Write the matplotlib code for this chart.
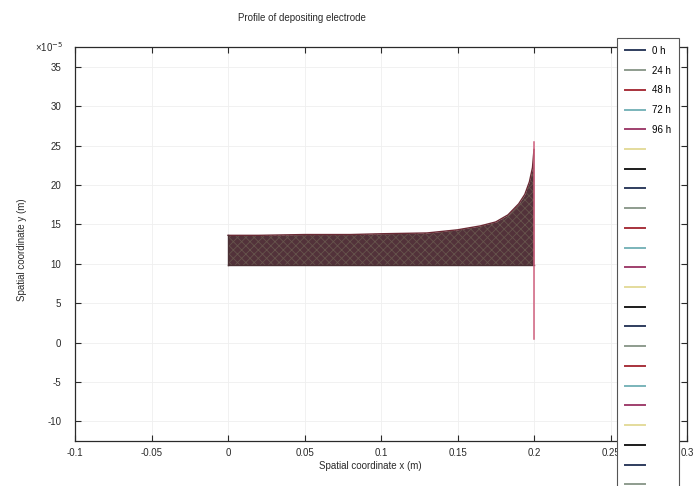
import matplotlib
matplotlib.use("Agg")
import matplotlib.pyplot as plt
from matplotlib.lines import Line2D
from matplotlib.ticker import FuncFormatter, MultipleLocator

plt.rcParams['font.family'] = ['Liberation Sans', 'DejaVu Sans']
plt.rcParams['hatch.linewidth'] = 0.6

# Electrode deposit profile (m): top surface and base of the deposit
x_profile = [0.0, 0.02, 0.05, 0.08, 0.10, 0.13, 0.15, 0.165, 0.175, 0.183,
             0.19, 0.194, 0.197, 0.199, 0.2]
y_top = [13.6e-5, 13.6e-5, 13.7e-5, 13.7e-5, 13.8e-5, 13.9e-5, 14.3e-5, 14.8e-5,
         15.3e-5, 16.2e-5, 17.6e-5, 18.8e-5, 20.4e-5, 22.2e-5, 24.5e-5]
y_base = 9.8e-5

# Electrode edge at x = 0.2 m
edge_x = 0.2
edge_y = [0.5e-5, 25.5e-5]

# Legend entries (time steps)
series_labels = ['0 h', '24 h', '48 h', '72 h', '96 h'] + [''] * 20
series_colors = ['#2f3d5e', '#8e9c8e', '#a8323c', '#7ab4ba', '#a0406e',
                 '#e4dc9c', '#1c1c1c']

fig = plt.figure(figsize=(6.99, 4.86), dpi=100)
ax = fig.add_axes([75 / 699, 1 - 441 / 486, 612 / 699, 394 / 486])

ax.fill_between(x_profile, y_base, y_top, color='#52323a', linewidth=0, zorder=2)
ax.fill_between(x_profile, y_base, y_top, facecolor='none', edgecolor='#66544c',
                hatch='xxxx', linewidth=0, zorder=2.5)
ax.plot(x_profile, y_top, color='#6a2a34', lw=1.0, zorder=3)
ax.plot([x_profile[0], x_profile[-1]], [y_base, y_base], color='#4a3034', lw=1.0, zorder=3)
ax.plot([x_profile[0], x_profile[0]], [y_base, y_top[0]], color='#4a3034', lw=1.0, zorder=3)
ax.plot([edge_x, edge_x], edge_y, color='#d0607e', lw=1.1, zorder=4)

ax.set_xlim(-0.1, 0.3)
ax.set_ylim(-12.5e-5, 37.5e-5)
ax.xaxis.set_major_locator(MultipleLocator(0.05))
ax.yaxis.set_major_locator(MultipleLocator(5e-5))
ax.xaxis.set_major_formatter(FuncFormatter(lambda v, p: '%g' % round(v, 4) if abs(v) > 1e-9 else '0'))
ax.yaxis.set_major_formatter(FuncFormatter(lambda v, p: '%d' % round(v / 1e-5)))
ax.tick_params(direction='in', length=4, width=0.8, top=True, right=True,
               labelsize=7, colors='#2a2a2a')
ax.tick_params(axis='x', pad=5)
ax.tick_params(axis='y', pad=10)
for s in ax.spines.values():
    s.set_color('#2a2a2a')
    s.set_linewidth(0.9)
ax.grid(True, color='#efefef', lw=0.6)
ax.set_axisbelow(True)

ax.text(-0.02, 1.0, '\u00d710$^{-5}$', transform=ax.transAxes, ha='right',
        va='center', fontsize=7, color='#2a2a2a')
fig.text(302 / 699, 1 - 18 / 486, 'Profile of depositing electrode', ha='center',
         va='center', fontsize=7, color='#2a2a2a')
fig.text(370 / 699, 1 - 466 / 486, 'Spatial coordinate x (m)', ha='center',
         va='center', fontsize=7, color='#2a2a2a')
fig.text(22 / 699, 1 - 250 / 486, 'Spatial coordinate y (m)', ha='center',
         va='center', rotation=90, fontsize=7, color='#2a2a2a')

handles = [Line2D([0], [0], color=series_colors[i % len(series_colors)], lw=1.4)
           for i in range(len(series_labels))]
leg = ax.legend(handles, series_labels, loc='upper left',
                bbox_to_anchor=(617 / 699, 1 - 38 / 486), bbox_transform=fig.transFigure,
                borderaxespad=0, fontsize=7, labelspacing=1.0, handlelength=2.1,
                handletextpad=0.7, borderpad=0.8, fancybox=False, framealpha=1)
leg.get_frame().set_edgecolor('#555555')
leg.get_frame().set_linewidth(0.8)

fig.savefig('out.png', dpi=100)
